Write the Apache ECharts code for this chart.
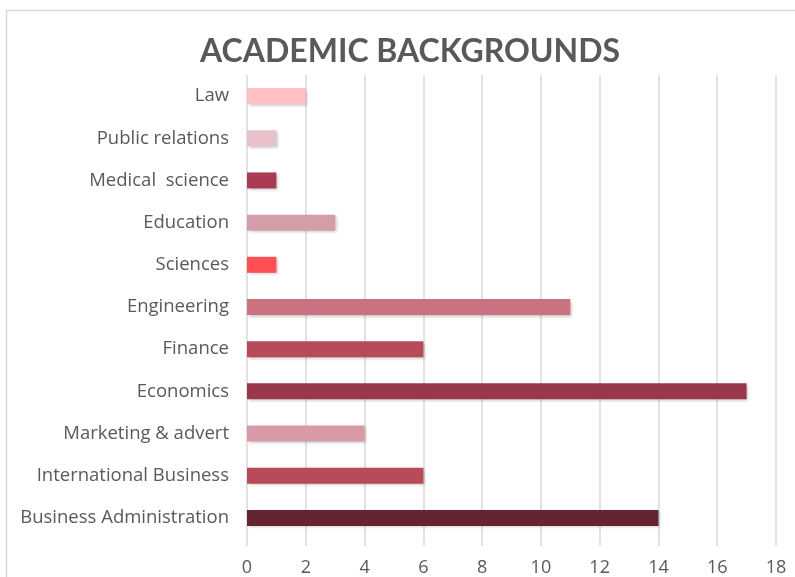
<!DOCTYPE html>
<html><head><meta charset="utf-8">
<script src="https://cdn.jsdelivr.net/npm/echarts@6/dist/echarts.min.js"></script>
<style>html,body{margin:0;padding:0;background:#fff}#c{width:795px;height:577px}</style>
</head><body><div id="c"></div>
<script>
const categories = ["Business Administration","International Business","Marketing & advert","Economics","Finance","Engineering","Sciences","Education","Medical  science","Public relations","Law"];
const values = [14,6,4,17,6,11,1,3,1,1,2];
const barColors = ["#652431","#b84a5a","#d99aa8","#98384a","#b84a5a","#c97280","#ff4f55","#d59ca9","#a93c53","#e9c1ca","#ffbfc3"];
const xTicks = [0,2,4,6,8,10,12,14,16,18];

const chart = echarts.init(document.getElementById('c'));
chart.setOption({
  animation:false,
  graphic:[{type:'rect',shape:{x:6.5,y:10.5,width:900,height:700},style:{fill:'none',stroke:'#d9d9d9',lineWidth:1.5},silent:true}],
  title:{text:'ACADEMIC BACKGROUNDS',left:200,top:36,textStyle:{fontFamily:'Lato',fontWeight:'bold',fontSize:32,color:'#595959'},padding:0},
  grid:{left:247,right:19,top:75,bottom:37,containLabel:false},
  xAxis:{type:'value',min:xTicks[0],max:xTicks[xTicks.length-1],interval:2,
    axisLine:{show:false},
    axisTick:{show:true,length:7,lineStyle:{color:'#d9d9d9',width:1.5}},
    axisLabel:{color:'#595959',fontFamily:'Open Sans',fontSize:18,margin:20},
    splitLine:{show:true,lineStyle:{color:'#d9d9d9',width:1.5}}},
  yAxis:{type:'category',data:categories,
    axisLine:{show:false},axisTick:{show:false},
    axisLabel:{color:'#595959',fontFamily:'Open Sans',fontSize:18.5,margin:18}},
  series:[{type:'bar',barWidth:16,
    data:values.map((v,i)=>({value:v,itemStyle:{color:barColors[i]}})),
    itemStyle:{shadowBlur:3,shadowColor:'rgba(0,0,0,0.25)',shadowOffsetX:1.5,shadowOffsetY:1.5}}]
});
</script></body></html>
